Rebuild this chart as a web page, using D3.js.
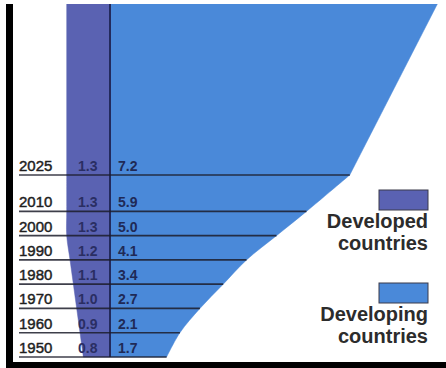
<!DOCTYPE html>
<html>
<head>
<meta charset="utf-8">
<script src="https://cdn.jsdelivr.net/npm/d3@7"></script>
<style>
  html, body { margin: 0; padding: 0; background: #fff; }
  svg { display: block; }
</style>
</head>
<body>
<svg id="chart" width="446" height="368"></svg>
<script>
// Population (billions) by year; the last entry only carries the outline past 2025.
const years      = [1950, 1960, 1970, 1980, 1990, 2000, 2010, 2025, 2100];
const developed  = [0.8, 0.9, 1.0, 1.1, 1.2, 1.3, 1.3, 1.3, 1.3];
const developing = [1.7, 2.1, 2.7, 3.4, 4.1, 5.0, 5.9, 7.2, 10.0];
// Rows that get a ruled line and value labels
const labelledYears = [1950, 1960, 1970, 1980, 1990, 2000, 2010, 2025];
const legendLabels = [["Developed", "countries"], ["Developing", "countries"]];

const colDeveloped = "#5a62b2";
const colDeveloping = "#4a89d9";

const svg = d3.select("#chart");
const W = 446, H = 368;

const y = d3.scaleLinear().domain([1950, 2025]).range([357, 175]);
const w = d3.scaleLinear().domain([0, 10]).range([0, 333]);
const axisX = 110;

const rows = years.map((yr, i) => ({ year: yr, dev: developed[i], dvg: developing[i] }));
// measured span is drawn as a smooth curve, the projection beyond 2025 as a straight run
const measured = rows.filter(d => d.year <= 2025);
const beyond = rows.filter(d => d.year >= 2025);

// clip everything above the top margin
svg.append("defs").append("clipPath").attr("id", "clip")
  .append("rect").attr("x", 0).attr("y", 4).attr("width", W).attr("height", H);

const g = svg.append("g").attr("clip-path", "url(#clip)");

function makeArea(side, key, curve) {
  return d3.area()
    .y(d => y(d.year))
    .x0(axisX)
    .x1(d => axisX + side * w(d[key]))
    .curve(curve);
}

[[measured, d3.curveCatmullRom.alpha(0.5)], [beyond, d3.curveLinear]].forEach(([data, curve]) => {
  g.append("path").datum(data).attr("d", makeArea(-1, "dev", curve))
    .attr("fill", colDeveloped).attr("stroke", colDeveloped).attr("stroke-width", 0.5);
  g.append("path").datum(data).attr("d", makeArea(1, "dvg", curve))
    .attr("fill", colDeveloping).attr("stroke", colDeveloping).attr("stroke-width", 0.5);
});

// dividing line between the two groups
g.append("line")
  .attr("x1", axisX).attr("x2", axisX)
  .attr("y1", y(2100)).attr("y2", y(1950))
  .attr("stroke", "#232a5c").attr("stroke-width", 2);

const labelled = rows.filter(d => labelledYears.includes(d.year));

// ruled lines under each year, running out to the edge of the shape
g.selectAll("line.rule").data(labelled).join("line")
  .attr("class", "rule")
  .attr("x1", 19)
  .attr("x2", d => axisX + w(d.dvg))
  .attr("y1", d => y(d.year))
  .attr("y2", d => y(d.year))
  .attr("stroke", "#1c1d2a").attr("stroke-opacity", 0.85)
  .attr("stroke-width", 1.7);

const fontMain = "'Liberation Sans', Arial, Helvetica, sans-serif";

g.selectAll("text.year").data(labelled).join("text")
  .attr("class", "year")
  .attr("x", 19)
  .attr("y", d => y(d.year) - 4)
  .attr("font-family", fontMain)
  .attr("font-size", 15)
  .attr("fill", "#1e1e1e")
  .attr("stroke", "#1e1e1e").attr("stroke-width", 0.45)
  .text(d => d.year);

g.selectAll("text.dev").data(labelled).join("text")
  .attr("class", "dev")
  .attr("x", 78)
  .attr("y", d => y(d.year) - 4)
  .attr("font-family", fontMain)
  .attr("font-size", 14)
  .attr("font-weight", "bold")
  .attr("fill", "#2a2e63")
  .text(d => d.dev.toFixed(1));

g.selectAll("text.dvg").data(labelled).join("text")
  .attr("class", "dvg")
  .attr("x", 118)
  .attr("y", d => y(d.year) - 4)
  .attr("font-family", fontMain)
  .attr("font-size", 14)
  .attr("font-weight", "bold")
  .attr("fill", "#1f2a56")
  .text(d => d.dvg.toFixed(1));

// legend
const legend = svg.append("g");
const legendItems = [
  { color: colDeveloped, lines: legendLabels[0], top: 190 },
  { color: colDeveloping, lines: legendLabels[1], top: 283 }
];
legendItems.forEach(item => {
  legend.append("rect")
    .attr("x", 379).attr("y", item.top)
    .attr("width", 49).attr("height", 20)
    .attr("fill", item.color)
    .attr("stroke", "#3a3a4a").attr("stroke-width", 1);
  item.lines.forEach((t, i) => {
    legend.append("text")
      .attr("x", 428)
      .attr("y", item.top + 38 + i * 22)
      .attr("text-anchor", "end")
      .attr("font-family", fontMain)
      .attr("font-size", 20)
      .attr("font-weight", "bold")
      .attr("fill", "#2c2c2c")
      .text(t);
  });
});

// black frame on the left and bottom
svg.append("rect").attr("x", 6).attr("y", 4).attr("width", 7).attr("height", H - 4).attr("fill", "#000");
svg.append("rect").attr("x", 6).attr("y", 362).attr("width", W - 6).attr("height", 6).attr("fill", "#000");
</script>
</body>
</html>
